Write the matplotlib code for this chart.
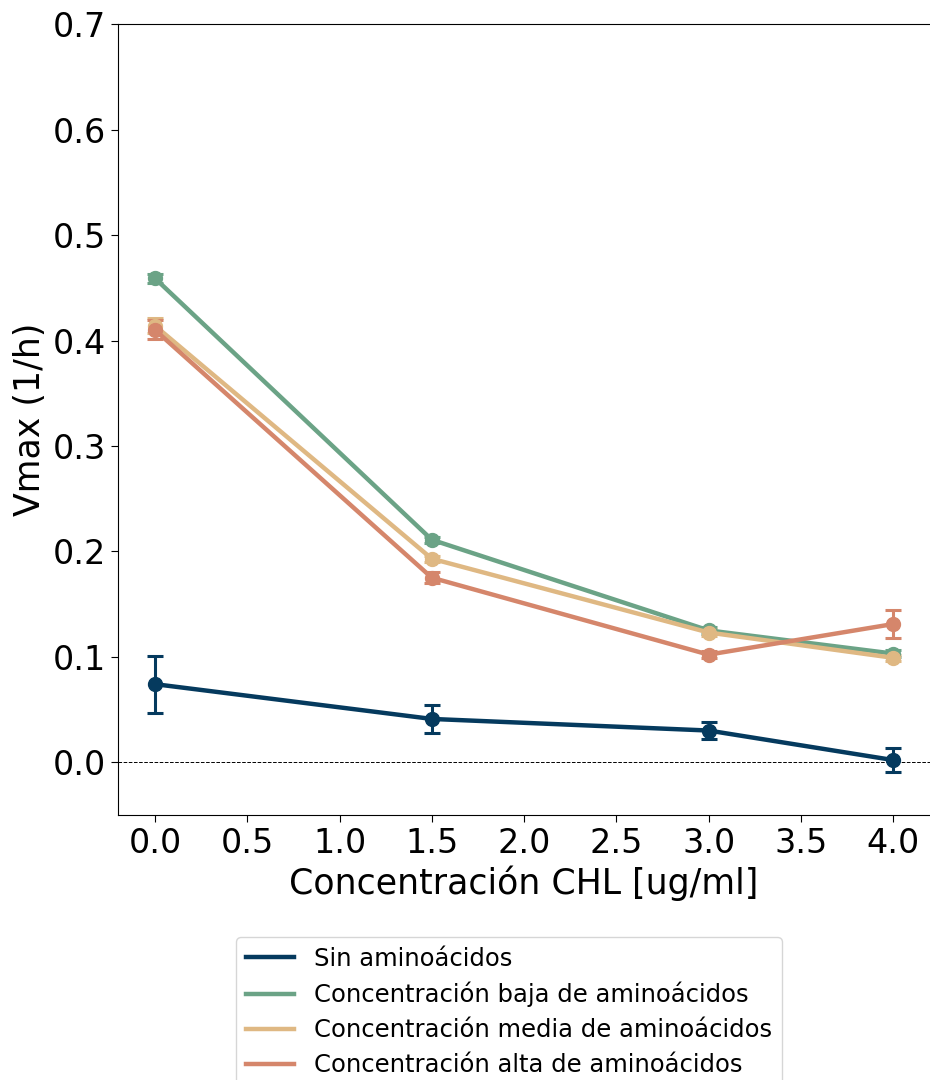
import numpy as np
import matplotlib.pyplot as plt
from matplotlib.lines import Line2D

# Concentraciones de cloranfenicol y Vmax medido para cada medio
chl = [0.0, 1.5, 3.0, 4.0]

sin_aa = [0.074, 0.041, 0.030, 0.002]
sin_aa_err = [0.027, 0.013, 0.008, 0.011]

baja = [0.459, 0.211, 0.125, 0.103]
baja_err = [0.004, 0.003, 0.003, 0.003]

media = [0.414, 0.193, 0.123, 0.099]
media_err = [0.007, 0.003, 0.003, 0.003]

alta = [0.410, 0.175, 0.102, 0.131]
alta_err = [0.009, 0.005, 0.003, 0.013]

labels = ['Sin aminoácidos',
          'Concentración baja de aminoácidos',
          'Concentración media de aminoácidos',
          'Concentración alta de aminoácidos']
colors = ['#053a5e', '#6ba386', '#dfb883', '#d5866b']

fig = plt.figure(figsize=(9.3, 10.8), dpi=100)
ax = fig.add_axes([0.127, 0.2455, 0.873, 0.732])

series = [(sin_aa, sin_aa_err), (baja, baja_err), (media, media_err), (alta, alta_err)]
for (y, err), c, lab in zip(series, colors, labels):
    ax.errorbar(chl, y, yerr=err, color=c, lw=3.2, marker='o', ms=10,
                capsize=6, elinewidth=2.2, capthick=2.2, label=lab)

ax.axhline(0, color='black', lw=0.7, ls='--')

ax.set_xlim(-0.2, 4.2)
ax.set_ylim(-0.05, 0.7)
ax.set_xticks(np.arange(0, 4.01, 0.5))
ax.set_yticks(np.arange(0, 0.71, 0.1))
ax.set_xticklabels([f'{v:.1f}' for v in np.arange(0, 4.01, 0.5)])
ax.set_yticklabels([f'{v:.1f}' for v in np.arange(0, 0.71, 0.1)])
ax.tick_params(labelsize=24, length=5)
ax.spines['right'].set_visible(False)

ax.set_xlabel('Concentración CHL [ug/ml]', fontsize=25)
ax.set_ylabel('Vmax (1/h)', fontsize=25)

# leyenda solo con líneas, debajo del gráfico
handles = [Line2D([], [], color=c, lw=3.2) for c in colors]
fig.legend(handles, labels, loc='upper center', bbox_to_anchor=(0.547, 0.1435),
           fontsize=17.5, handlelength=2.0, labelspacing=0.45)

fig.savefig('out.png', dpi=100)
